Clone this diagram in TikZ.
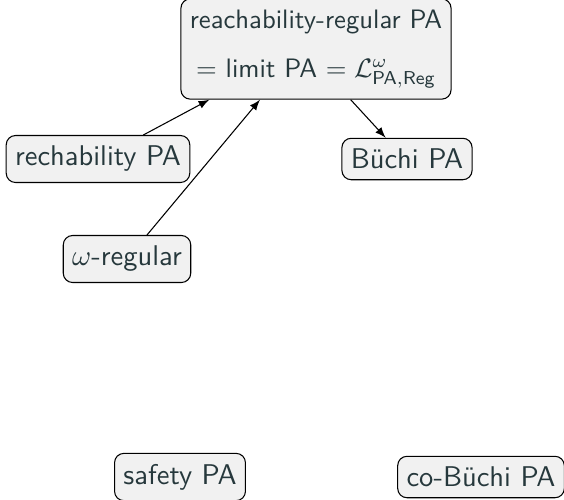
\documentclass[tikz,border=0pt]{standalone}
\usepackage{amsmath}
\usepackage{tikz}
\usetikzlibrary{arrows}
\definecolor{pagray}{RGB}{241,241,241}
\definecolor{patext}{RGB}{38,56,60}

\begin{document}
\sffamily
\begin{tikzpicture}[x=0.375pt, y=-0.375pt,
  pabox/.style={draw, rounded corners=3.5pt, fill=pagray, text=patext,
    font=\sffamily\fontsize{10.7pt}{14pt}\selectfont, align=center,
    inner ysep=4pt}]
\useasboundingbox (0,0) rectangle (564,499);

\node[pabox, font=\sffamily\fontsize{10pt}{18.4pt}\selectfont] (reg) at (316,49)
  {reachability-regular PA\\
   $=$ limit PA $=\mathcal{L}^{\omega}_{\textsf{PA},\textsf{Reg}}$};
\node[pabox] (rech) at (98,159) {rechability PA};
\node[pabox] (buchi) at (407,159) {B\"uchi PA};
\node[pabox] (omega) at (127,259) {$\omega$-regular};
\node[pabox] (safety) at (180,477) {safety PA};
\node[pabox] (cobuchi) at (481,477) {co-B\"uchi PA};

\draw[-latex] ([xshift=17pt]rech.north) -- ([xshift=-40pt]reg.south);
\draw[-latex] ([xshift=7.5pt]omega.north) -- ([xshift=-21pt]reg.south);
\draw[-latex] ([xshift=13pt]reg.south) -- ([xshift=-8pt]buchi.north);
\end{tikzpicture}
\end{document}
